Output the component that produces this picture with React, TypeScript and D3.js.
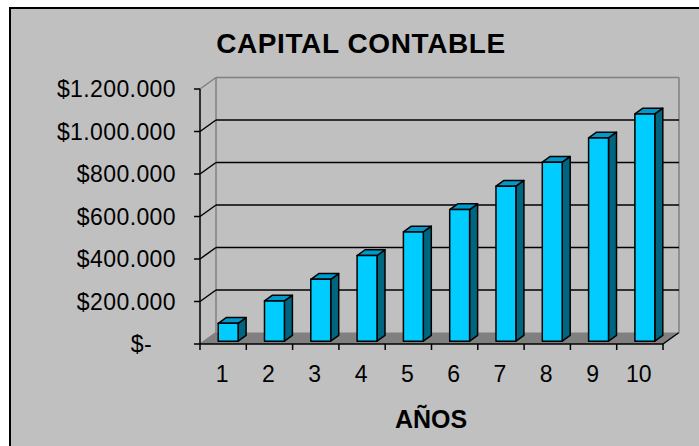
import React from "react";
import * as d3 from "d3";

const categories = ["1", "2", "3", "4", "5", "6", "7", "8", "9", "10"];
const values = [84000, 189000, 291000, 403000, 514000, 619000, 729000, 842000, 956000, 1069000];
const yTicks = [0, 200000, 400000, 600000, 800000, 1000000, 1200000];
const title = "CAPITAL CONTABLE";
const xTitle = "AÑOS";

const W = 699;
const H = 446;
const DX = 16;
const DY = -11.5;
const FONT = "'Liberation Sans', Arial, sans-serif";

const fmt = (v: number) => {
  if (v === 0) return "$-";
  const s = d3.format(",")(v).replace(/,/g, ".");
  return "$" + s;
};

export default function App() {
  const x = d3.scaleBand<string>().domain(categories).range([200, 663]).padding(0);
  const y = d3.scaleLinear().domain([0, 1200000]).range([344, 89]);
  const bw = x.bandwidth() * 0.43;
  const d0 = 0.25;
  const d1 = 0.75;

  const x0 = x.range()[0];
  const x1 = x.range()[1];
  const yBase = y(0);
  const yTop = y(1200000);

  const pts = (arr: [number, number][]) => arr.map((p) => p.join(",")).join(" ");

  return (
    <svg width={W} height={H} style={{ position: "absolute", left: 0, top: 0, background: "#fff" }}>
      <rect x={10} y={8} width={W + 20} height={H + 20} fill="#C0C0C0" stroke="#000" strokeWidth={2} />
      {/* floor */}
      <polygon
        points={pts([[x0, yBase], [x1, yBase], [x1 + DX, yBase + DY], [x0 + DX, yBase + DY]])}
        fill="#808080"
      />
      <line x1={x0} y1={yBase} x2={x0 + DX} y2={yBase + DY} stroke="#808080" strokeWidth={1.5} />
      <line x1={x1} y1={yBase} x2={x1 + DX} y2={yBase + DY} stroke="#000" strokeWidth={1.5} />
      {/* back wall edges */}
      <line x1={x0 + DX} y1={yBase + DY} x2={x0 + DX} y2={yTop + DY} stroke="#808080" strokeWidth={1.5} />
      <line x1={x1 + DX} y1={yBase + DY} x2={x1 + DX} y2={yTop + DY} stroke="#808080" strokeWidth={1.5} />
      <line x1={x0 + DX} y1={yTop + DY} x2={x1 + DX} y2={yTop + DY} stroke="#808080" strokeWidth={1.5} />
      <line x1={x0} y1={yTop} x2={x0 + DX} y2={yTop + DY} stroke="#808080" strokeWidth={1.5} />
      {/* gridlines */}
      {yTicks
        .filter((t) => t > 0 && t < 1200000)
        .map((t) => (
          <g key={"g" + t}>
            <line x1={x0} y1={y(t)} x2={x0 + DX} y2={y(t) + DY} stroke="#000" strokeWidth={1.5} />
            <line x1={x0 + DX} y1={y(t) + DY} x2={x1 + DX} y2={y(t) + DY} stroke="#000" strokeWidth={1.5} />
          </g>
        ))}
      {/* axes */}
      <line x1={x0} y1={yTop} x2={x0} y2={yBase} stroke="#000" strokeWidth={1.5} />
      <line x1={x0} y1={yBase} x2={x1} y2={yBase} stroke="#000" strokeWidth={1.5} />
      {yTicks.map((t) => (
        <line key={"yt" + t} x1={x0 - 6} y1={y(t)} x2={x0} y2={y(t)} stroke="#000" strokeWidth={1.5} />
      ))}
      {categories.map((c) => (
        <line key={"xt" + c} x1={x(c)!} y1={yBase} x2={x(c)!} y2={yBase + 6} stroke="#000" strokeWidth={1.5} />
      ))}
      <line x1={x1} y1={yBase} x2={x1} y2={yBase + 6} stroke="#000" strokeWidth={1.5} />
      {/* bars */}
      {categories.map((c, i) => {
        const v = values[i];
        const xl = x(c)! + (x.bandwidth() - bw) / 2 + 1 + DX * d0;
        const xr = xl + bw;
        const yt = y(v) + DY * d0;
        const yb = y(0) + DY * d0;
        const ddx = DX * (d1 - d0);
        const ddy = DY * (d1 - d0);
        return (
          <g key={"b" + c} stroke="#000" strokeWidth={1.5} strokeLinejoin="round">
            <polygon points={pts([[xr, yt], [xr + ddx, yt + ddy], [xr + ddx, yb + ddy], [xr, yb]])} fill="#006680" />
            <polygon points={pts([[xl, yt], [xr, yt], [xr + ddx, yt + ddy], [xl + ddx, yt + ddy]])} fill="#0099CC" />
            <rect x={xl} y={yt} width={bw} height={yb - yt} fill="#00CCFF" />
          </g>
        );
      })}
      {/* labels */}
      {yTicks.map((t) => (
        <text
          key={"yl" + t}
          x={t === 0 ? 152 : 176}
          y={y(t)}
          dy="0.36em"
          textAnchor="end"
          fontFamily={FONT}
          fontSize={23}
          letterSpacing={0.4}
          fill="#000"
        >
          {fmt(t)}
        </text>
      ))}
      {categories.map((c) => (
        <text
          key={"xl" + c}
          x={x(c)! + x.bandwidth() / 2 - 1}
          y={382}
          textAnchor="middle"
          fontFamily={FONT}
          fontSize={23}
          fill="#000"
        >
          {c}
        </text>
      ))}
      <text x={361} y={53} textAnchor="middle" fontFamily={FONT} fontSize={28} letterSpacing={0.6} fontWeight="bold" fill="#000">
        {title}
      </text>
      <text x={431} y={428} textAnchor="middle" fontFamily={FONT} fontSize={25} fontWeight="bold" fill="#000">
        {xTitle}
      </text>
    </svg>
  );
}
